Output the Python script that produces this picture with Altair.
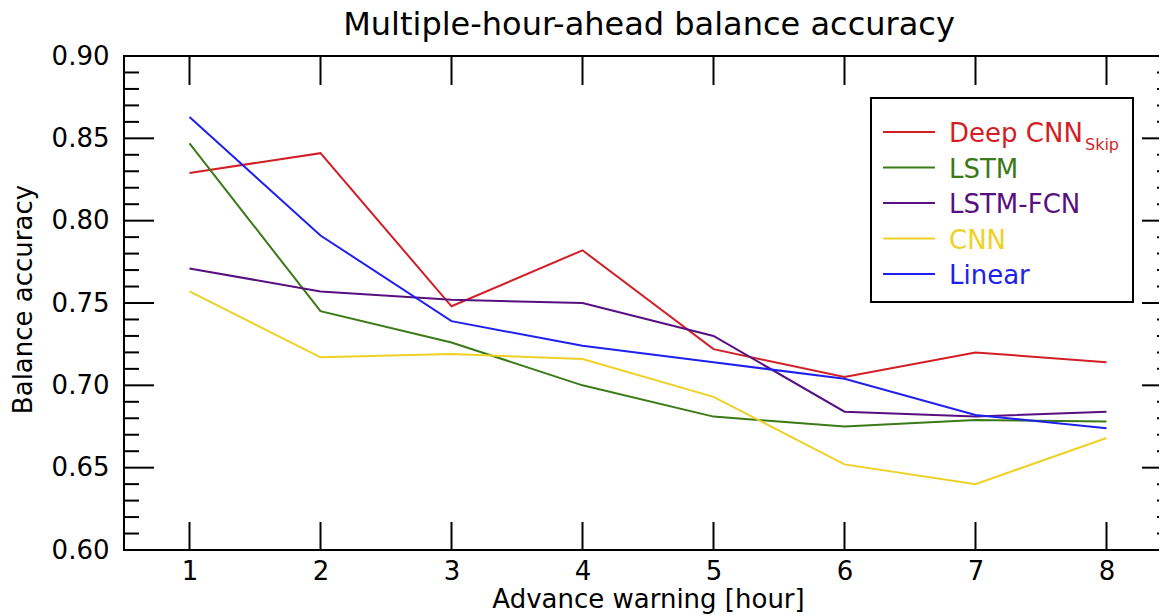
import altair as alt
import pandas as pd

# ---- data ----
hours = [1, 2, 3, 4, 5, 6, 7, 8]
deep_cnn_skip = [0.829, 0.841, 0.748, 0.782, 0.722, 0.705, 0.720, 0.714]
lstm = [0.847, 0.745, 0.726, 0.700, 0.681, 0.675, 0.679, 0.678]
lstm_fcn = [0.771, 0.757, 0.752, 0.750, 0.730, 0.684, 0.681, 0.684]
cnn = [0.757, 0.717, 0.719, 0.716, 0.693, 0.652, 0.640, 0.668]
linear = [0.863, 0.791, 0.739, 0.724, 0.714, 0.704, 0.682, 0.674]

series_names = ["Deep CNN", "LSTM", "LSTM-FCN", "CNN", "Linear"]
legend_subscripts = ["Skip", "", "", "", ""]
series_colors = ["#d21f26", "#3b7a17", "#581081", "#efd125", "#2020ee"]

chart_title = ["Multiple-hour-ahead balance accuracy"]

y_major_ticks = [0.60, 0.65, 0.70, 0.75, 0.80, 0.85, 0.90]
y_minor_ticks = [0.61, 0.62, 0.63, 0.64, 0.66, 0.67, 0.68, 0.69,
                 0.71, 0.72, 0.73, 0.74, 0.76, 0.77, 0.78, 0.79,
                 0.81, 0.82, 0.83, 0.84, 0.86, 0.87, 0.88, 0.89]
x_ticks = hours

FONT = "DejaVu Sans"
W, H = 1048, 494

rows = []
for name, vals in zip(series_names, [deep_cnn_skip, lstm, lstm_fcn, cnn, linear]):
    for h, v in zip(hours, vals):
        rows.append({"series": name, "hour": h, "value": v})
df = pd.DataFrame(rows)

color_scale = alt.Scale(domain=series_names, range=series_colors)
x_scale = alt.Scale(domain=[0.5, 8.5], nice=False, zero=False)
y_scale = alt.Scale(domain=[0.6, 0.9], nice=False, zero=False)

x_axis = alt.Axis(values=x_ticks, format="d", title="Advance warning [hour]",
                  ticks=False, tickSize=0, domain=False, grid=False,
                  labelFontSize=26, labelPadding=8, labelFont=FONT, labelColor="black",
                  titleFontSize=26, titleFont=FONT, titleFontWeight="normal", titleColor="black",
                  titleBaseline="alphabetic", titleY=57, titleX=W / 2, titleAlign="center")
y_axis = alt.Axis(values=y_major_ticks, format=".2f", title="Balance accuracy",
                  ticks=False, tickSize=0, domain=False, grid=False,
                  labelFontSize=26, labelPadding=15, labelFont=FONT, labelColor="black",
                  titleFontSize=26, titleFont=FONT, titleFontWeight="normal", titleColor="black",
                  titleAngle=270, titleBaseline="alphabetic", titleAlign="center",
                  titleX=-93, titleY=243)

lines = alt.Chart(df).mark_line(strokeWidth=2).encode(
    x=alt.X("hour:Q", scale=x_scale, axis=x_axis),
    y=alt.Y("value:Q", scale=y_scale, axis=y_axis),
    color=alt.Color("series:N", scale=color_scale, legend=None),
)

ymaj = pd.DataFrame({"v": y_major_ticks})
ymin = pd.DataFrame({"v": y_minor_ticks})
xt = pd.DataFrame({"hour": x_ticks})

def yrule(data, x0, x1):
    return alt.Chart(data).mark_rule(color="black", strokeWidth=2).encode(
        y=alt.Y("v:Q", scale=y_scale, axis=y_axis), x=alt.value(x0), x2=alt.value(x1))

def xrule(y0, y1):
    return alt.Chart(xt).mark_rule(color="black", strokeWidth=2).encode(
        x=alt.X("hour:Q", scale=x_scale, axis=x_axis), y=alt.value(y0), y2=alt.value(y1))

ticks = [
    yrule(ymaj, 0, 30), yrule(ymin, 0, 15),
    yrule(ymaj, W - 30, W), yrule(ymin, W - 15, W),
    xrule(0, 29), xrule(H - 28, H),
]

# ---- title (as a text mark above the plot) ----
title = alt.Chart(pd.DataFrame({"t": chart_title})).mark_text(
    align="center", baseline="alphabetic", fontSize=32, font=FONT, color="black").encode(
    x=alt.value(W / 2 + 1), y=alt.value(-21.5), text="t:N")

# ---- legend ----
leg = pd.DataFrame({"series": series_names, "sub": legend_subscripts,
                    "idx": list(range(len(series_names)))})
leg_base = alt.Chart(leg).transform_calculate(ly="76 + 35.5 * datum.idx")

leg_box = alt.Chart(pd.DataFrame({"a": [0]})).mark_rect(
    fill="white", stroke="black", strokeWidth=2).encode(
    x=alt.value(747), x2=alt.value(1009), y=alt.value(42), y2=alt.value(246))

leg_lines = leg_base.mark_rule(strokeWidth=2).encode(
    x=alt.value(759), x2=alt.value(811), y=alt.Y("ly:Q", scale=None),
    color=alt.Color("series:N", scale=color_scale, legend=None))

leg_text = leg_base.mark_text(align="left", baseline="alphabetic", fontSize=26, dy=10, font=FONT).encode(
    x=alt.value(825), y=alt.Y("ly:Q", scale=None), text="series:N",
    color=alt.Color("series:N", scale=color_scale, legend=None))

leg_sub = leg_base.mark_text(align="left", baseline="alphabetic", fontSize=16, dy=18, font=FONT).encode(
    x=alt.value(961), y=alt.Y("ly:Q", scale=None), text="sub:N",
    color=alt.Color("series:N", scale=color_scale, legend=None))

chart = alt.layer(lines, *ticks, leg_box, leg_lines, leg_text, leg_sub, title).properties(
    width=W, height=H,
    autosize=alt.AutoSizeParams(type="none"),
    padding={"left": 116, "top": 48, "right": -13, "bottom": 68},
).configure(font=FONT).configure_view(stroke="black", strokeWidth=2)

chart.save("out.html", embed_options={"renderer": "svg", "actions": False})
